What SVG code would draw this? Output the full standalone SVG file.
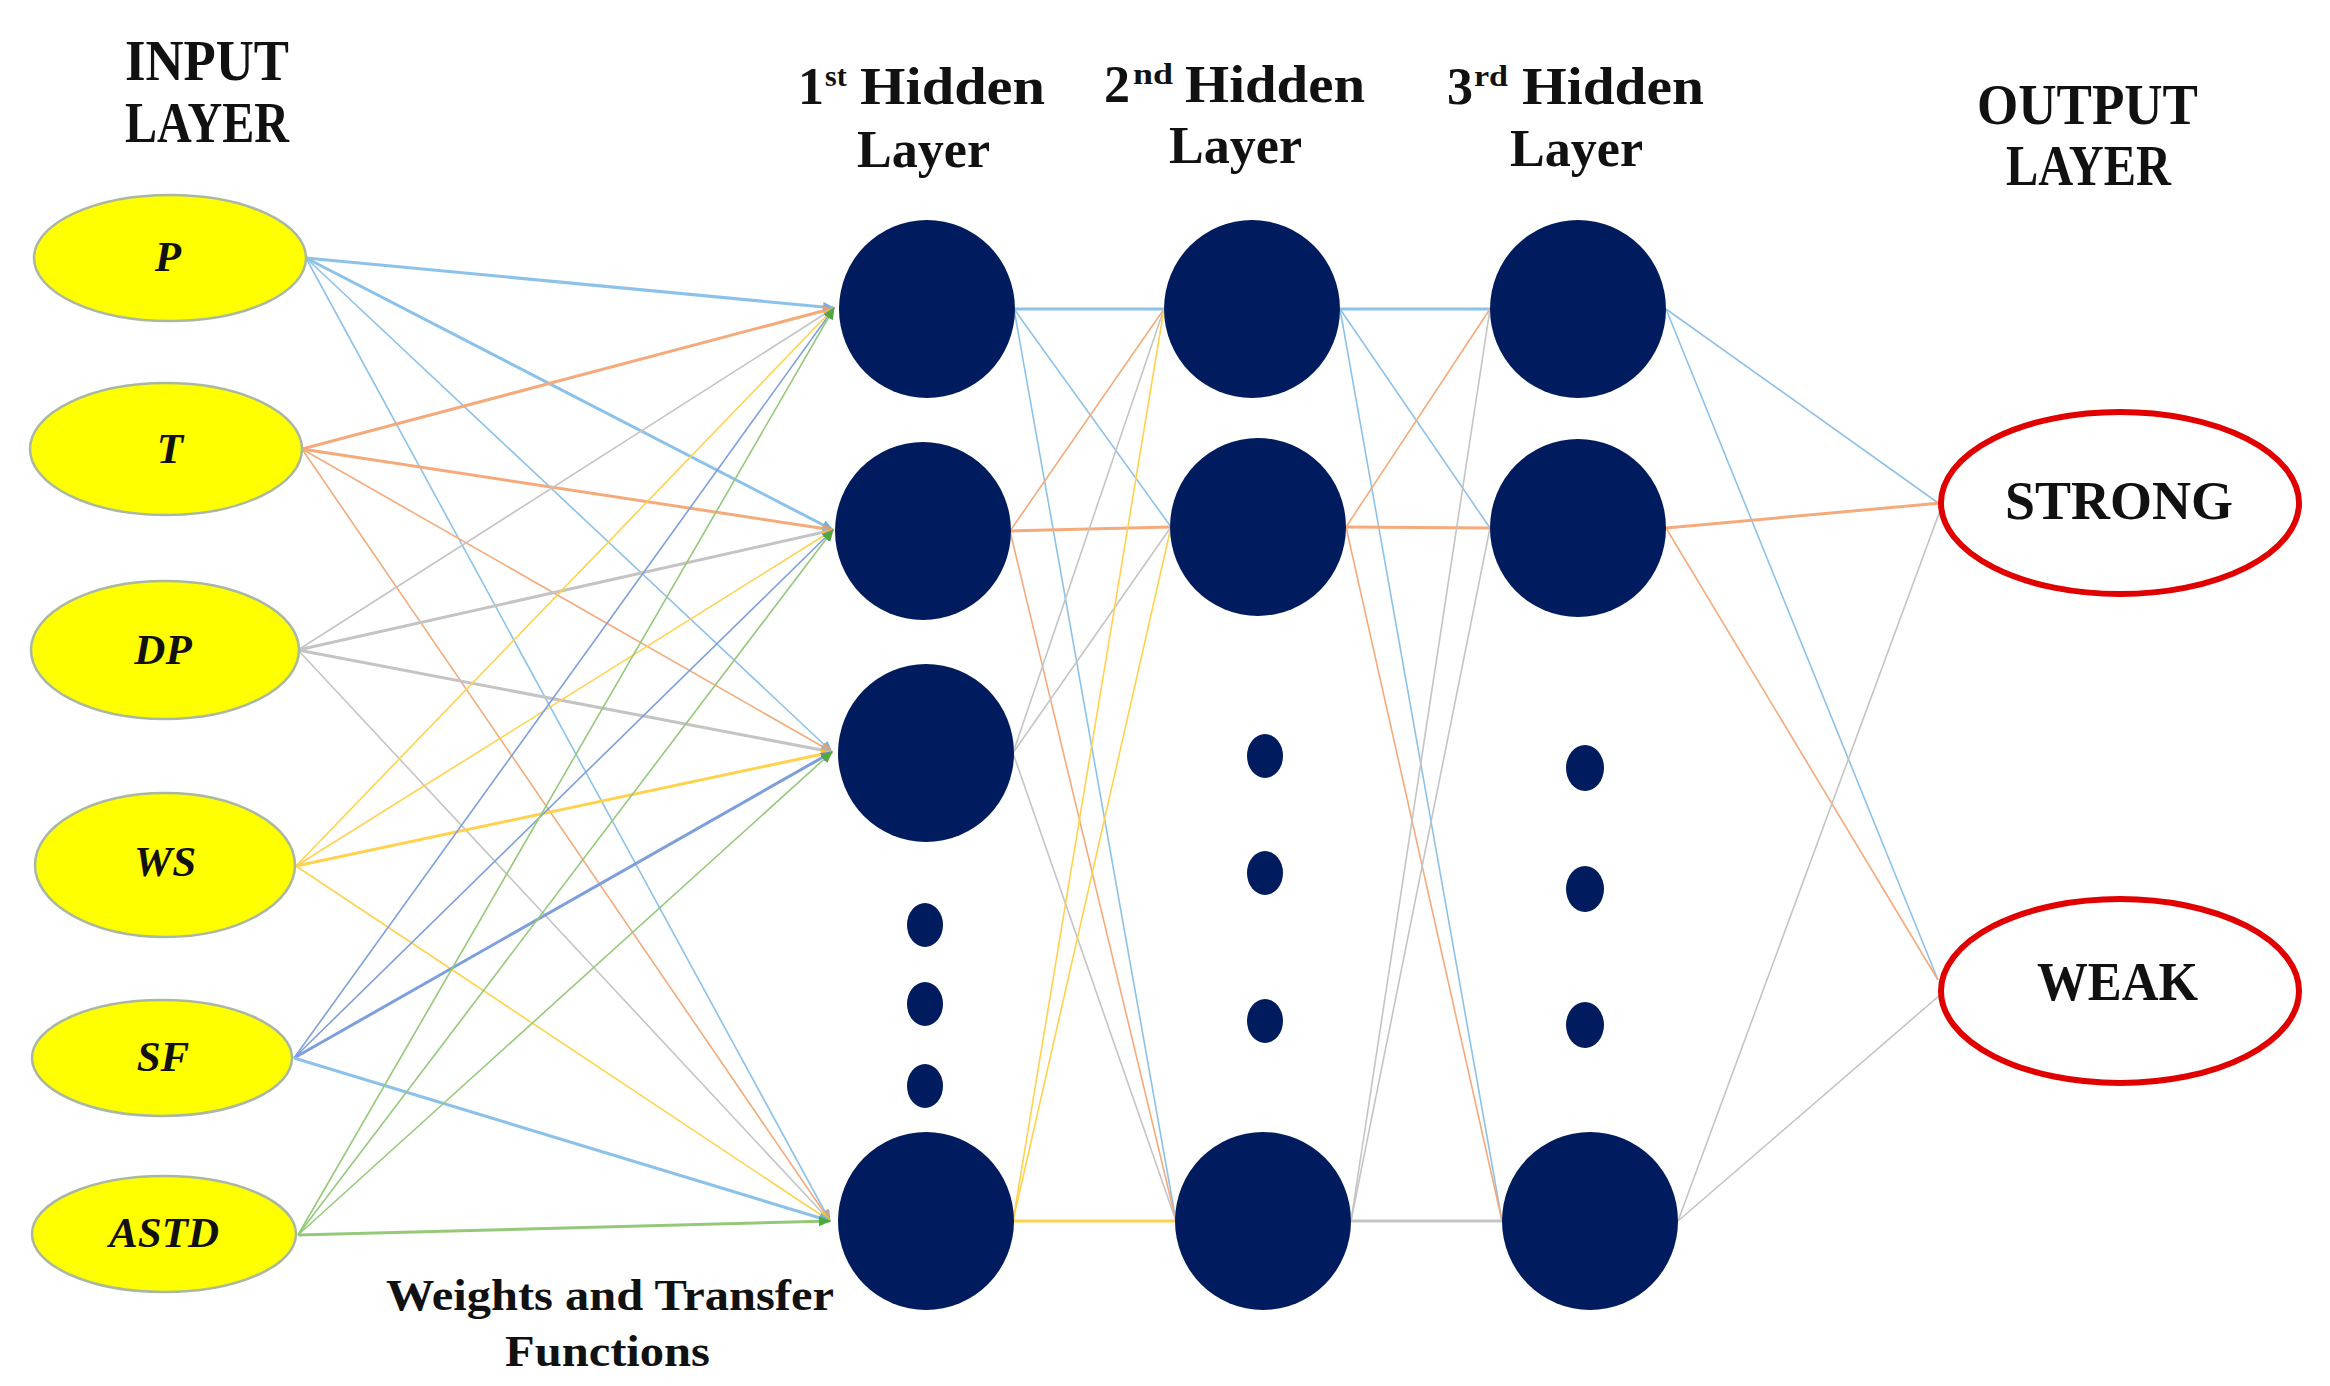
<svg xmlns="http://www.w3.org/2000/svg" width="2330" height="1386" viewBox="0 0 2330 1386">
<style>
.t{font-family:"Liberation Serif","Times New Roman",serif;font-weight:bold;fill:#111}
.in{font-family:"Liberation Serif","Times New Roman",serif;font-weight:bold;font-style:italic;font-size:43px;fill:#111;text-anchor:middle}
.inp{fill:#ffff00;stroke:#a9b8a0;stroke-width:2.5}
.hid{fill:#001c5e}
.out{fill:#fff;stroke:#e00000;stroke-width:6}
.c line{fill:none;stroke-width:1.6}
.c line.k{stroke-width:3}
.lb{stroke:#8cc2ea}
.or{stroke:#f5aa7c}
.gy{stroke:#c4c4c4}
.gd{stroke:#ffd24d}
.db{stroke:#7e9fdc}
.gr{stroke:#95c97a}
</style>
<defs>
<marker id="aLb" markerUnits="userSpaceOnUse" markerWidth="12" markerHeight="10" refX="11" refY="5" orient="auto"><path d="M0,0 L12,5 L0,10 z" fill="#6fb2e4"/></marker>
<marker id="aOr" markerUnits="userSpaceOnUse" markerWidth="12" markerHeight="10" refX="11" refY="5" orient="auto"><path d="M0,0 L12,5 L0,10 z" fill="#f09a66"/></marker>
<marker id="aGy" markerUnits="userSpaceOnUse" markerWidth="12" markerHeight="10" refX="11" refY="5" orient="auto"><path d="M0,0 L12,5 L0,10 z" fill="#b0b0b0"/></marker>
<marker id="aGd" markerUnits="userSpaceOnUse" markerWidth="12" markerHeight="10" refX="11" refY="5" orient="auto"><path d="M0,0 L12,5 L0,10 z" fill="#ffc21a"/></marker>
<marker id="aDb" markerUnits="userSpaceOnUse" markerWidth="12" markerHeight="10" refX="11" refY="5" orient="auto"><path d="M0,0 L12,5 L0,10 z" fill="#6688d0"/></marker>
<marker id="aGr" markerUnits="userSpaceOnUse" markerWidth="12" markerHeight="10" refX="11" refY="5" orient="auto"><path d="M0,0 L12,5 L0,10 z" fill="#4fa83a"/></marker>
</defs>
<rect width="2330" height="1386" fill="#fff"/>

<g id="connectors" class="c">
<!-- P -->
<line class="lb k" x1="306" y1="258" x2="834" y2="308" marker-end="url(#aLb)"/>
<line class="lb k" x1="306" y1="258" x2="833" y2="530" marker-end="url(#aLb)"/>
<line class="lb" x1="306" y1="258" x2="832" y2="752" marker-end="url(#aLb)"/>
<line class="lb" x1="306" y1="258" x2="830" y2="1221" marker-end="url(#aLb)"/>
<!-- T -->
<line class="or k" x1="302" y1="449" x2="834" y2="308" marker-end="url(#aOr)"/>
<line class="or k" x1="302" y1="449" x2="833" y2="530" marker-end="url(#aOr)"/>
<line class="or" x1="302" y1="449" x2="832" y2="752" marker-end="url(#aOr)"/>
<line class="or" x1="302" y1="449" x2="830" y2="1221" marker-end="url(#aOr)"/>
<!-- DP -->
<line class="gy" x1="298" y1="650" x2="834" y2="308" marker-end="url(#aGy)"/>
<line class="gy k" x1="298" y1="650" x2="833" y2="530" marker-end="url(#aGy)"/>
<line class="gy k" x1="298" y1="650" x2="832" y2="752" marker-end="url(#aGy)"/>
<line class="gy" x1="298" y1="650" x2="830" y2="1221" marker-end="url(#aGy)"/>
<!-- WS -->
<line class="gd" x1="296" y1="866" x2="834" y2="308" marker-end="url(#aGd)"/>
<line class="gd" x1="296" y1="866" x2="833" y2="530" marker-end="url(#aGd)"/>
<line class="gd k" x1="296" y1="866" x2="832" y2="752" marker-end="url(#aGd)"/>
<line class="gd" x1="296" y1="866" x2="830" y2="1221" marker-end="url(#aGd)"/>
<!-- SF -->
<line class="db" x1="294" y1="1058" x2="834" y2="308" marker-end="url(#aDb)"/>
<line class="db" x1="294" y1="1058" x2="833" y2="530" marker-end="url(#aDb)"/>
<line class="db k" x1="294" y1="1058" x2="832" y2="752" marker-end="url(#aDb)"/>
<line class="lb k" x1="294" y1="1058" x2="830" y2="1221" marker-end="url(#aLb)"/>
<!-- ASTD -->
<line class="gr" x1="298" y1="1235" x2="834" y2="308" marker-end="url(#aGr)"/>
<line class="gr" x1="298" y1="1235" x2="833" y2="530" marker-end="url(#aGr)"/>
<line class="gr" x1="298" y1="1235" x2="832" y2="752" marker-end="url(#aGr)"/>
<line class="gr k" x1="298" y1="1235" x2="830" y2="1221" marker-end="url(#aGr)"/>

<!-- Layer 1 to Layer 2 -->
<line class="lb k" x1="1014" y1="309" x2="1164" y2="309"/>
<line class="lb" x1="1014" y1="309" x2="1171" y2="527"/>
<line class="lb" x1="1014" y1="309" x2="1176" y2="1221"/>
<line class="or" x1="1010" y1="531" x2="1164" y2="309"/>
<line class="or k" x1="1010" y1="531" x2="1171" y2="527"/>
<line class="or" x1="1010" y1="531" x2="1176" y2="1221"/>
<line class="gy" x1="1013" y1="753" x2="1164" y2="309"/>
<line class="gy" x1="1013" y1="753" x2="1171" y2="527"/>
<line class="gy" x1="1013" y1="753" x2="1176" y2="1221"/>
<line class="gd" x1="1013" y1="1221" x2="1164" y2="309"/>
<line class="gd" x1="1013" y1="1221" x2="1171" y2="527"/>
<line class="gd k" x1="1013" y1="1221" x2="1176" y2="1221"/>

<!-- Layer 2 to Layer 3 -->
<line class="lb k" x1="1340" y1="309" x2="1490" y2="309"/>
<line class="lb" x1="1340" y1="309" x2="1490" y2="528"/>
<line class="lb" x1="1340" y1="309" x2="1502" y2="1221"/>
<line class="or" x1="1346" y1="527" x2="1490" y2="309"/>
<line class="or k" x1="1346" y1="527" x2="1490" y2="528"/>
<line class="or" x1="1346" y1="527" x2="1502" y2="1221"/>
<line class="gy" x1="1351" y1="1221" x2="1490" y2="309"/>
<line class="gy" x1="1351" y1="1221" x2="1490" y2="528"/>
<line class="gy k" x1="1351" y1="1221" x2="1502" y2="1221"/>

<!-- Layer 3 to Output -->
<line class="lb" x1="1666" y1="309" x2="1941" y2="505"/>
<line class="lb" x1="1666" y1="309" x2="1938" y2="980"/>
<line class="or k" x1="1666" y1="528" x2="1941" y2="503"/>
<line class="or" x1="1666" y1="528" x2="1938" y2="980"/>
<line class="gy" x1="1678" y1="1221" x2="1941" y2="508"/>
<line class="gy" x1="1678" y1="1221" x2="1940" y2="995"/>
</g>

<g id="input-P"><ellipse class="inp" cx="170" cy="258" rx="136" ry="63"/><text class="in" x="168" y="271">P</text></g>
<g id="input-T"><ellipse class="inp" cx="166" cy="449" rx="136" ry="66"/><text class="in" x="170" y="463">T</text></g>
<g id="input-DP"><ellipse class="inp" cx="165" cy="650" rx="134" ry="69"/><text class="in" x="163" y="664">DP</text></g>
<g id="input-WS"><ellipse class="inp" cx="165" cy="865" rx="130" ry="72"/><text class="in" x="165" y="876">WS</text></g>
<g id="input-SF"><ellipse class="inp" cx="162" cy="1058" rx="130" ry="58"/><text class="in" x="163" y="1071">SF</text></g>
<g id="input-ASTD"><ellipse class="inp" cx="164" cy="1234" rx="132" ry="58"/><text class="in" x="164" y="1247">ASTD</text></g>

<g id="h1-1"><ellipse class="hid" cx="927" cy="309" rx="88" ry="89"/></g>
<g id="h1-2"><ellipse class="hid" cx="923" cy="531" rx="88" ry="89"/></g>
<g id="h1-3"><ellipse class="hid" cx="926" cy="753" rx="88" ry="89"/></g>
<g id="h1-dots"><ellipse class="hid" cx="925" cy="925" rx="18" ry="22"/><ellipse class="hid" cx="925" cy="1004" rx="18" ry="22"/><ellipse class="hid" cx="925" cy="1086" rx="18" ry="22"/></g>
<g id="h1-4"><ellipse class="hid" cx="926" cy="1221" rx="88" ry="89"/></g>

<g id="h2-1"><ellipse class="hid" cx="1252" cy="309" rx="88" ry="89"/></g>
<g id="h2-2"><ellipse class="hid" cx="1258" cy="527" rx="88" ry="89"/></g>
<g id="h2-dots"><ellipse class="hid" cx="1265" cy="756" rx="18" ry="22"/><ellipse class="hid" cx="1265" cy="873" rx="18" ry="22"/><ellipse class="hid" cx="1265" cy="1021" rx="18" ry="22"/></g>
<g id="h2-4"><ellipse class="hid" cx="1263" cy="1221" rx="88" ry="89"/></g>

<g id="h3-1"><ellipse class="hid" cx="1578" cy="309" rx="88" ry="89"/></g>
<g id="h3-2"><ellipse class="hid" cx="1578" cy="528" rx="88" ry="89"/></g>
<g id="h3-dots"><ellipse class="hid" cx="1585" cy="768" rx="19" ry="23"/><ellipse class="hid" cx="1585" cy="889" rx="19" ry="23"/><ellipse class="hid" cx="1585" cy="1025" rx="19" ry="23"/></g>
<g id="h3-4"><ellipse class="hid" cx="1590" cy="1221" rx="88" ry="89"/></g>

<g id="out-STRONG"><ellipse class="out" cx="2120" cy="503" rx="179" ry="91"/><text class="t" x="2005" y="519" font-size="54" textLength="228" lengthAdjust="spacingAndGlyphs">STRONG</text></g>
<g id="out-WEAK"><ellipse class="out" cx="2120" cy="991" rx="179" ry="92"/><text class="t" x="2037" y="1000" font-size="54" textLength="161" lengthAdjust="spacingAndGlyphs">WEAK</text></g>

<g id="labels">
<text class="t" x="125" y="80" font-size="58" textLength="164" lengthAdjust="spacingAndGlyphs">INPUT</text>
<text class="t" x="125" y="142" font-size="58" textLength="164" lengthAdjust="spacingAndGlyphs">LAYER</text>

<text class="t" x="798" y="104" font-size="52">1</text>
<text class="t" x="825" y="86" font-size="30">st</text>
<text class="t" x="860" y="104" font-size="52" textLength="185" lengthAdjust="spacingAndGlyphs">Hidden</text>
<text class="t" x="857" y="167" font-size="52" textLength="133" lengthAdjust="spacingAndGlyphs">Layer</text>

<text class="t" x="1104" y="102" font-size="52">2</text>
<text class="t" x="1133" y="84" font-size="30" textLength="40" lengthAdjust="spacingAndGlyphs">nd</text>
<text class="t" x="1185" y="102" font-size="52" textLength="180" lengthAdjust="spacingAndGlyphs">Hidden</text>
<text class="t" x="1169" y="163" font-size="52" textLength="133" lengthAdjust="spacingAndGlyphs">Layer</text>

<text class="t" x="1447" y="104" font-size="52">3</text>
<text class="t" x="1474" y="86" font-size="30" textLength="34" lengthAdjust="spacingAndGlyphs">rd</text>
<text class="t" x="1522" y="104" font-size="52" textLength="182" lengthAdjust="spacingAndGlyphs">Hidden</text>
<text class="t" x="1510" y="166" font-size="52" textLength="133" lengthAdjust="spacingAndGlyphs">Layer</text>

<text class="t" x="1977" y="124" font-size="56" textLength="221" lengthAdjust="spacingAndGlyphs">OUTPUT</text>
<text class="t" x="2006" y="185" font-size="56" textLength="165" lengthAdjust="spacingAndGlyphs">LAYER</text>

<text class="t" x="386" y="1310" font-size="44" textLength="448" lengthAdjust="spacingAndGlyphs">Weights and Transfer</text>
<text class="t" x="505" y="1366" font-size="44" textLength="205" lengthAdjust="spacingAndGlyphs">Functions</text>
</g>
</svg>
